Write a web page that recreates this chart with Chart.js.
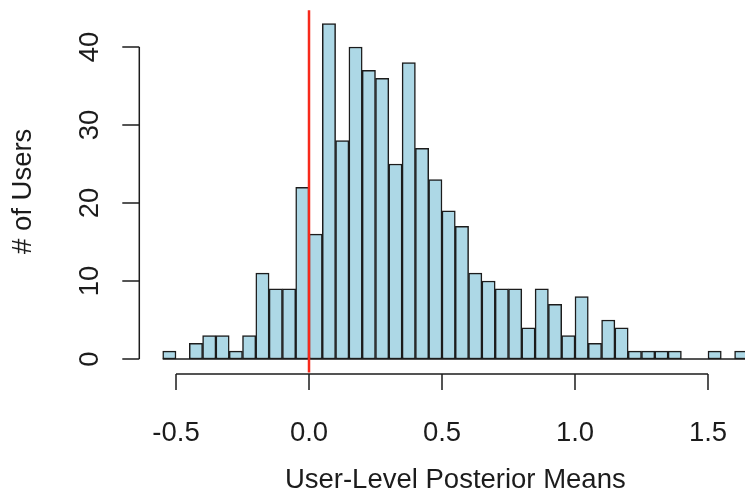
<!DOCTYPE html>
<html>
<head>
<meta charset="utf-8">
<script src="https://cdn.jsdelivr.net/npm/chart.js@4/dist/chart.umd.min.js"></script>
<style>
  html, body { margin: 0; padding: 0; background: #fff; overflow: hidden; }
  #wrap { width: 800px; height: 504px; }
</style>
</head>
<body>
<div id="wrap"><canvas id="hist" width="800" height="504"></canvas></div>
<script>
// lower edge of each bin (width 0.05)
const binEdges = [
  -0.55, -0.50, -0.45, -0.40, -0.35, -0.30, -0.25, -0.20, -0.15, -0.10, -0.05,
  0.00, 0.05, 0.10, 0.15, 0.20, 0.25, 0.30, 0.35, 0.40, 0.45, 0.50, 0.55,
  0.60, 0.65, 0.70, 0.75, 0.80, 0.85, 0.90, 0.95, 1.00, 1.05, 1.10, 1.15,
  1.20, 1.25, 1.30, 1.35, 1.40, 1.45, 1.50, 1.55, 1.60
];
const binWidth = 0.05;
const userCounts = [
  1, 0, 2, 3, 3, 1, 3, 11, 9, 9, 22,
  16, 43, 28, 40, 37, 36, 25, 38, 27, 23, 19, 17,
  11, 10, 9, 9, 4, 9, 7, 3, 8, 2, 5, 4,
  1, 1, 1, 1, 0, 0, 1, 0, 1
];
const xTicks = [-0.5, 0.0, 0.5, 1.0, 1.5];
const xTickLabels = ["-0.5", "0.0", "0.5", "1.0", "1.5"];
const yTicks = [0, 10, 20, 30, 40];
const xTitle = "User-Level Posterior Means";
const yTitle = "# of Users";
const refLine = 0;

const FONT = '27.5px "Liberation Sans", Arial, Helvetica, sans-serif';
const INK = "#1c1c1c";

// R-style axes, labels and the reference line
const rAxes = {
  id: "rAxes",
  afterDatasetsDraw(chart) {
    const { ctx, chartArea, scales } = chart;
    const x = scales.x, y = scales.y;
    ctx.save();

    // baseline under empty bins
    ctx.strokeStyle = INK;
    ctx.lineWidth = 1.5;
    ctx.beginPath();
    ctx.moveTo(x.getPixelForValue(binEdges[0]), y.getPixelForValue(0));
    ctx.lineTo(x.getPixelForValue(binEdges[binEdges.length - 1] + binWidth), y.getPixelForValue(0));
    ctx.stroke();

    // vertical reference line
    ctx.strokeStyle = "#f7291b";
    ctx.lineWidth = 2.5;
    ctx.beginPath();
    ctx.moveTo(x.getPixelForValue(refLine), chartArea.top);
    ctx.lineTo(x.getPixelForValue(refLine), chartArea.bottom);
    ctx.stroke();

    ctx.strokeStyle = INK;
    ctx.fillStyle = INK;
    ctx.lineWidth = 1.5;
    ctx.font = FONT;

    // x axis
    const ax = chartArea.bottom + 1.5;
    ctx.beginPath();
    ctx.moveTo(x.getPixelForValue(xTicks[0]), ax);
    ctx.lineTo(x.getPixelForValue(xTicks[xTicks.length - 1]), ax);
    xTicks.forEach(v => {
      const px = x.getPixelForValue(v);
      ctx.moveTo(px, ax);
      ctx.lineTo(px, ax + 16);
    });
    ctx.stroke();
    ctx.textAlign = "center";
    ctx.textBaseline = "middle";
    xTicks.forEach((v, i) => ctx.fillText(xTickLabels[i], x.getPixelForValue(v), ax + 60));
    ctx.fillText(xTitle, (chartArea.left + chartArea.right) / 2, ax + 107);

    // y axis
    const ay = chartArea.left;
    ctx.beginPath();
    ctx.moveTo(ay, y.getPixelForValue(yTicks[0]));
    ctx.lineTo(ay, y.getPixelForValue(yTicks[yTicks.length - 1]));
    yTicks.forEach(v => {
      const py = y.getPixelForValue(v);
      ctx.moveTo(ay, py);
      ctx.lineTo(ay - 17, py);
    });
    ctx.stroke();
    yTicks.forEach(v => {
      ctx.save();
      ctx.translate(ay - 49, y.getPixelForValue(v));
      ctx.rotate(-Math.PI / 2);
      ctx.fillText(String(v), 0, 0);
      ctx.restore();
    });
    ctx.save();
    ctx.translate(ay - 116, (chartArea.top + chartArea.bottom) / 2);
    ctx.rotate(-Math.PI / 2);
    ctx.fillText(yTitle, 0, 0);
    ctx.restore();

    ctx.restore();
  }
};

const points = binEdges.map((e, i) => ({ x: e + binWidth / 2, y: userCounts[i] }));

new Chart(document.getElementById("hist"), {
  type: "bar",
  data: {
    datasets: [{
      data: points,
      backgroundColor: "#add8e6",
      borderColor: INK,
      borderWidth: 1.5,
      borderSkipped: false,
      barPercentage: 1,
      categoryPercentage: 1
    }]
  },
  options: {
    responsive: false,
    animation: false,
    events: [],
    layout: { padding: { left: 139.3, right: 28.7, top: 10.2, bottom: 131.6 } },
    plugins: { legend: { display: false }, tooltip: { enabled: false } },
    scales: {
      x: { type: "linear", display: false, offset: false, min: -0.638, max: 1.738 },
      y: { display: false, min: -1.72, max: 44.72 }
    }
  },
  plugins: [rAxes]
});
</script>
</body>
</html>
